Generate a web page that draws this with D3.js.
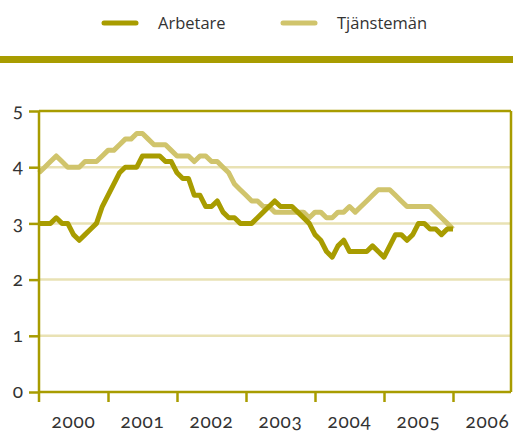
<!DOCTYPE html>
<html><head><meta charset="utf-8">
<script src="https://cdn.jsdelivr.net/npm/d3@7"></script>
<style>
html,body{margin:0;padding:0;background:#fff;}
svg text{font-family:"Open Sans",Lato,sans-serif;fill:#333;}
svg text.num{font-family:Lato,"Open Sans",sans-serif;font-feature-settings:"onum" 1;font-variant-numeric:oldstyle-nums;}
</style></head><body>
<script>
const seriesNames = ["Arbetare", "Tjänstemän"];
const colors = ["#a89c00", "#d0c46c"];
// monthly values, Jan 2000 .. Jan 2006
const arbetare = [3.0,3.0,3.0,3.1,3.0,3.0,2.8,2.7,2.8,2.9,3.0,3.3,
  3.5,3.7,3.9,4.0,4.0,4.0,4.2,4.2,4.2,4.2,4.1,4.1,
  3.9,3.8,3.8,3.5,3.5,3.3,3.3,3.4,3.2,3.1,3.1,3.0,
  3.0,3.0,3.1,3.2,3.3,3.4,3.3,3.3,3.3,3.2,3.1,3.0,
  2.8,2.7,2.5,2.4,2.6,2.7,2.5,2.5,2.5,2.5,2.6,2.5,
  2.4,2.6,2.8,2.8,2.7,2.8,3.0,3.0,2.9,2.9,2.8,2.9,2.9];
const tjanstemän = [3.9,4.0,4.1,4.2,4.1,4.0,4.0,4.0,4.1,4.1,4.1,4.2,
  4.3,4.3,4.4,4.5,4.5,4.6,4.6,4.5,4.4,4.4,4.4,4.3,
  4.2,4.2,4.2,4.1,4.2,4.2,4.1,4.1,4.0,3.9,3.7,3.6,
  3.5,3.4,3.4,3.3,3.3,3.2,3.2,3.2,3.2,3.2,3.2,3.1,
  3.2,3.2,3.1,3.1,3.2,3.2,3.3,3.2,3.3,3.4,3.5,3.6,
  3.6,3.6,3.5,3.4,3.3,3.3,3.3,3.3,3.3,3.2,3.1,3.0,2.9];
const yearLabels = ["2000","2001","2002","2003","2004","2005","2006"];
const yTicks = [0,1,2,3,4,5];

const W = 513, H = 432;
const svg = d3.select("body").append("svg").attr("width", W).attr("height", H);
const axisColor = "#a89c00", gridColor = "#e9e2b4";

const x = d3.scaleLinear().domain([2000, 2000 + 472/69]).range([39, 511]);
const y = d3.scaleLinear().domain([0, 5]).range([392, 111]);

// legend
const legX = [104, 283];
seriesNames.forEach((n, i) => {
  svg.append("line").attr("x1", legX[i]).attr("x2", legX[i] + 32).attr("y1", 23).attr("y2", 23)
    .attr("stroke", colors[i]).attr("stroke-width", 5).attr("stroke-linecap", "round");
  svg.append("text").attr("x", legX[i] + 54).attr("y", 29).attr("font-size", 16.5).text(n);
});
// separator
svg.append("rect").attr("x", 0).attr("y", 56).attr("width", W).attr("height", 7).attr("fill", axisColor);

// grid
svg.append("g").selectAll("line").data(yTicks.filter(d => d > 0 && d < 5)).join("line")
  .attr("x1", x.range()[0]).attr("x2", x.range()[1]).attr("y1", d => y(d)).attr("y2", d => y(d))
  .attr("stroke", gridColor).attr("stroke-width", 2.5);

// lines
const months = d3.range(arbetare.length).map(i => 2000 + i/12);
const line = d3.line().x((d, i) => x(months[i])).y(d => y(d));
[tjanstemän, arbetare].forEach((s, k) => {
  svg.append("path").datum(s).attr("d", line).attr("fill", "none")
    .attr("stroke", k === 0 ? colors[1] : colors[0]).attr("stroke-width", 5)
    .attr("stroke-linejoin", "round").attr("stroke-linecap", "butt");
});

// frame
const fr = svg.append("g").attr("stroke", axisColor).attr("stroke-width", 2.5).attr("fill", "none");
fr.append("line").attr("x1", x.range()[0]).attr("x2", x.range()[1]).attr("y1", y(5)).attr("y2", y(5));
fr.append("line").attr("x1", x.range()[1]).attr("x2", x.range()[1]).attr("y1", y(5)).attr("y2", y(0));

// y axis
const yAxis = d3.axisLeft(y).tickValues(yTicks).tickSize(10).tickPadding(6).tickFormat(d3.format("d"));
const gy = svg.append("g").attr("transform", `translate(${x.range()[0]},0)`).call(yAxis);
gy.select(".domain").attr("stroke", axisColor).attr("stroke-width", 2.5)
  .attr("d", `M0,${y(5)}V${y(0) + 10}`);
gy.selectAll(".tick line").attr("stroke", axisColor).attr("stroke-width", 2.5);
gy.selectAll(".tick text").attr("class", "num").attr("font-size", 19).attr("fill", "#333")
  .attr("font-family", null).attr("dy", "0.3em");

// x axis
const tickYears = d3.range(2001, 2007);
const xAxis = d3.axisBottom(x).tickValues(tickYears).tickSize(10).tickFormat("");
const gx = svg.append("g").attr("transform", `translate(0,${y(0)})`).call(xAxis);
gx.select(".domain").attr("stroke", axisColor).attr("stroke-width", 2.5)
  .attr("d", `M${x.range()[0]},0H${x.range()[1]}`);
gx.selectAll(".tick line").attr("stroke", axisColor).attr("stroke-width", 2.5);
gx.selectAll(".tick").filter(d => x(d) > x.range()[1] - 1).remove();
svg.append("g").selectAll("text").data(yearLabels).join("text")
  .attr("class", "num")
  .attr("x", d => x(+d + 0.5)).attr("y", 428).attr("text-anchor", "middle").attr("font-size", 19)
  .attr("letter-spacing", 0.8)
  .text(d => d);
</script>
</body></html>
